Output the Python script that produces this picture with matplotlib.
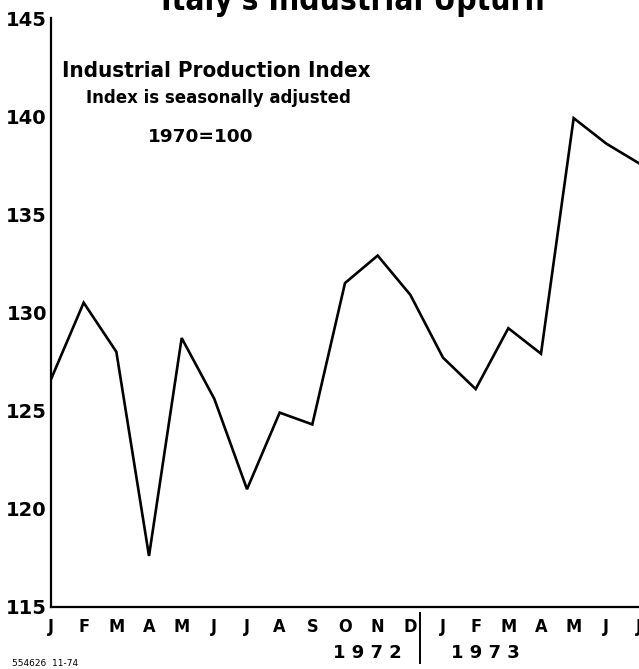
import matplotlib
matplotlib.use("Agg")
import matplotlib.pyplot as plt
import matplotlib.transforms as mtransforms

# Italy industrial production index, 1970=100, seasonally adjusted
MONTHS = ["J", "F", "M", "A", "M", "J", "J", "A", "S", "O", "N", "D",
          "J", "F", "M", "A", "M", "J", "J"]
INDEX = [126.6, 130.5, 128.0, 117.6, 128.7, 125.6, 121.0, 124.9, 124.3,
         131.5, 132.9, 130.9, 127.7, 126.1, 129.2, 127.9, 139.9, 138.6, 137.6]
Y_TICKS = [115, 120, 125, 130, 135, 140, 145]
YEARS = ["1 9 7 2", "1 9 7 3"]
YEAR_POS = [9.7, 13.3]
DIVIDER = 11.3

FAM = ["DejaVu Sans"]

fig = plt.figure(figsize=(6.39, 6.69), dpi=100)
ax = fig.add_axes([51 / 639, 1 - 607 / 669, 1 - 51 / 639, (607 - 18) / 669])

ax.plot(range(len(INDEX)), INDEX, color="black", lw=1.9, solid_joinstyle="miter")

ax.set_xlim(0, 17.95)
ax.set_ylim(115, 145)
ax.spines["top"].set_visible(False)
ax.spines["right"].set_visible(False)
ax.spines["left"].set_linewidth(1.6)
ax.spines["bottom"].set_linewidth(1.6)

ax.set_yticks(Y_TICKS)
ax.set_yticklabels([str(v) for v in Y_TICKS], family=FAM, fontweight="bold", fontsize=14)
ax.set_xticks(range(len(MONTHS)))
ax.set_xticklabels(MONTHS, family=FAM, fontstretch="condensed", fontweight="bold", fontsize=13)
ax.tick_params(axis="y", length=0, pad=3)
ax.tick_params(axis="x", length=0, pad=8)

# year labels under the month letters, with a divider
blend = mtransforms.blended_transform_factory(ax.transData, ax.transAxes)
for lab, pos in zip(YEARS, YEAR_POS):
    ax.text(pos, -0.078, lab, transform=blend, ha="center", va="center",
            family=FAM, fontweight="bold", fontsize=13, clip_on=False)
ax.plot([DIVIDER, DIVIDER], [-0.01, -0.095], transform=blend, color="black",
        lw=1.4, clip_on=False)

# legend text block
fig.text(62 / 639, 1 - 71 / 669, "Industrial Production Index",
         ha="left", va="center", family=FAM, fontstretch="condensed",
         fontweight="bold", fontsize=16)
fig.text(218 / 639, 1 - 98 / 669, "Index is seasonally adjusted",
         ha="center", va="center", family=FAM, fontstretch="condensed",
         fontweight="bold", fontsize=13.3)
fig.text(201 / 639, 1 - 137 / 669, "1970=100",
         ha="center", va="center", family=FAM, fontweight="bold", fontsize=13.3)

# title, cut off at the top edge as in the scan
fig.text(353 / 639, 1 - 10 / 669, "Italy's Industrial Upturn", ha="center", va="baseline",
         family=FAM, fontstretch="condensed", fontweight="bold", fontsize=22.8)

fig.text(12 / 639, 1 - 664 / 669, "554626  11-74", ha="left", va="center",
         family=FAM, fontsize=6.5)

fig.savefig("out.png", dpi=100)
